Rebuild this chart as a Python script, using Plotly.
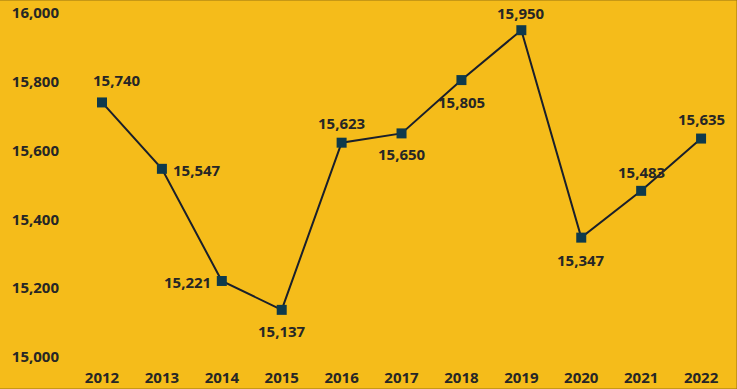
import plotly.graph_objects as go

years = [2012, 2013, 2014, 2015, 2016, 2017, 2018, 2019, 2020, 2021, 2022]
values = [15740, 15547, 15221, 15137, 15623, 15650, 15805, 15950, 15347, 15483, 15635]
y_ticks = [15000, 15200, 15400, 15600, 15800, 16000]

# label placement: (xanchor, xshift px, yshift px)
label_pos = [("center", 15, 22), ("left", 9, -1), ("right", -9, -1), ("center", 0, -21),
             ("center", 0, 20), ("center", 0, -21), ("center", 0, -22), ("center", 0, 17),
             ("center", 0, -22), ("center", 0, 19), ("center", 0, 20)]

bg = "#F5BC1A"
txt = "#262626"
font_family = "Open Sans"

fig = go.Figure(go.Scatter(
    x=years, y=values,
    mode="lines+markers",
    line=dict(color="#1A1F2B", width=2),
    marker=dict(symbol="square", size=10, color="#0E3A4C"),
    cliponaxis=False,
))

annotations = []
for yr, v, (xa, xs, ys) in zip(years, values, label_pos):
    annotations.append(dict(
        x=yr, y=v, text=f"{v:,}", showarrow=False,
        xanchor=xa, yanchor="middle", xshift=xs, yshift=ys,
        font=dict(family=font_family, size=15, color=txt, weight="bold"),
    ))

fig.update_layout(
    width=737, height=389,
    margin=dict(l=66, r=0, t=0, b=22),
    paper_bgcolor=bg, plot_bgcolor=bg,
    showlegend=False,
    font=dict(family=font_family, size=15, color=txt),
    annotations=annotations,
    xaxis=dict(range=[2011.399, 2022.6], tickmode="array", tickvals=years,
               ticktext=[str(y) for y in years], showgrid=False, zeroline=False,
               showline=False, ticks="", tickfont=dict(size=15, weight="bold", color=txt)),
    yaxis=dict(range=[14970.9, 16037.8], tickmode="array", tickvals=y_ticks,
               ticktext=[f"{t:,}" for t in y_ticks], showgrid=False, zeroline=False,
               showline=False, ticks="", ticklabelstandoff=6,
               tickfont=dict(size=15, weight="bold", color=txt)),
    shapes=[dict(type="rect", xref="paper", yref="paper", x0=-0.1, x1=1, y0=-0.06, y1=1,
                 line=dict(color="#9A7410", width=1), layer="above")],
)

fig.write_html("out.html")
